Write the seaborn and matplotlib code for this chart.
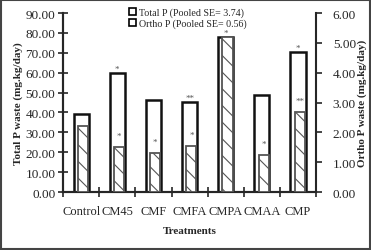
import pandas as pd
import seaborn as sns
import matplotlib.pyplot as plt
from matplotlib.patches import Rectangle, Patch

treatments = ["Control", "CM45", "CMF", "CMFA", "CMPA", "CMAA", "CMP"]
total_p = [39.0, 60.0, 46.5, 45.5, 78.0, 49.0, 70.5]
ortho_p = [2.20, 1.50, 1.30, 1.53, 5.20, 1.24, 2.67]
total_marks = ["", "*", "", "**", "*", "", "*"]
ortho_marks = ["", "*", "*", "*", "", "*", "**"]
legend_labels = ["Total P (Pooled SE= 3.74)", "Ortho P (Pooled SE= 0.56)"]

sns.set_style("ticks")
plt.rcParams["font.family"] = ["Liberation Serif", "DejaVu Serif"]
plt.rcParams["hatch.linewidth"] = 0.8
plt.rcParams["hatch.color"] = "#333333"

df = pd.DataFrame({"treatment": treatments, "total": total_p, "ortho": ortho_p})

fig = plt.figure(figsize=(3.71, 2.51), dpi=100)
ax = fig.add_axes([0.170, 0.231, 0.682, 0.713])
ax2 = ax.twinx()

sns.barplot(data=df, x="treatment", y="total", ax=ax, color="white",
            edgecolor="#111111", linewidth=1.8, width=0.42, zorder=2)
sns.barplot(data=df, x="treatment", y="ortho", ax=ax2, color="white",
            edgecolor="#555555", linewidth=1.3, width=0.28, hatch="\\\\", zorder=3)
for p in ax2.patches:
    p.set_x(p.get_x() + 0.05)

# total bars drawn behind ortho bars
ax.set_zorder(1)
ax2.set_zorder(2)
ax2.patch.set_visible(False)

for i, (v, m) in enumerate(zip(total_p, total_marks)):
    if m:
        ax.text(i, v + 0.8, m, ha="center", va="baseline", fontsize=6.5, color="#555555")
for i, (v, m) in enumerate(zip(ortho_p, ortho_marks)):
    if m:
        ax2.text(i + 0.05, v + 0.25, m, ha="center", va="bottom", fontsize=6.5, color="#555555")

ax.set_ylim(0, 90)
ax2.set_ylim(0, 6)
ax.set_xlim(-0.5, len(treatments) - 0.5)
ax.set_yticks(range(0, 91, 10))
ax.set_yticklabels([f"{t:.2f}" for t in range(0, 91, 10)], fontsize=9.5)
ax2.set_yticks(range(0, 7))
ax2.set_yticklabels([f"{t:.2f}" for t in range(0, 7)], fontsize=9.5)
ax.set_xticks([i - 0.5 for i in range(len(treatments) + 1)], minor=False)
ax.set_xticklabels([])
ax.set_xticks(range(len(treatments)), minor=True)
ax.set_xticklabels(treatments, minor=True, fontsize=9)
ax.tick_params(axis="x", which="major", direction="inout", length=7, width=1.2)
ax.tick_params(axis="x", which="minor", length=0, pad=9)
ax.tick_params(axis="y", direction="inout", length=7, width=1.2, pad=2)
ax2.tick_params(axis="y", direction="out", length=4, width=1.2, pad=8)

for a in (ax, ax2):
    a.spines["top"].set_visible(False)
    for s in ("left", "right", "bottom"):
        a.spines[s].set_linewidth(1.5)
ax.spines["right"].set_visible(False)

ax.set_xlabel("Treatments", fontsize=8, fontweight="bold", labelpad=7)
ax.set_ylabel("Total P waste (mg.kg/day)", fontsize=8, fontweight="bold", labelpad=2)
ax2.set_ylabel("Ortho P waste (mg.kg/day)", fontsize=8, fontweight="bold", rotation=90, labelpad=1)

handles = [Patch(facecolor="white", edgecolor="black", linewidth=1.2),
           Patch(facecolor="white", edgecolor="black", linewidth=1.2, hatch="\\\\")]
ax.legend(handles, legend_labels, loc="upper left", bbox_to_anchor=(0.24, 1.06),
          frameon=False, fontsize=7.2, handlelength=0.7, handleheight=0.7,
          handletextpad=0.3, labelspacing=0.15, borderpad=0)

fig.patches.append(Rectangle((0.003, 0.004), 0.994, 0.992, transform=fig.transFigure,
                             fill=False, edgecolor="#444444", linewidth=1.5))

fig.savefig("out.png", dpi=100)
